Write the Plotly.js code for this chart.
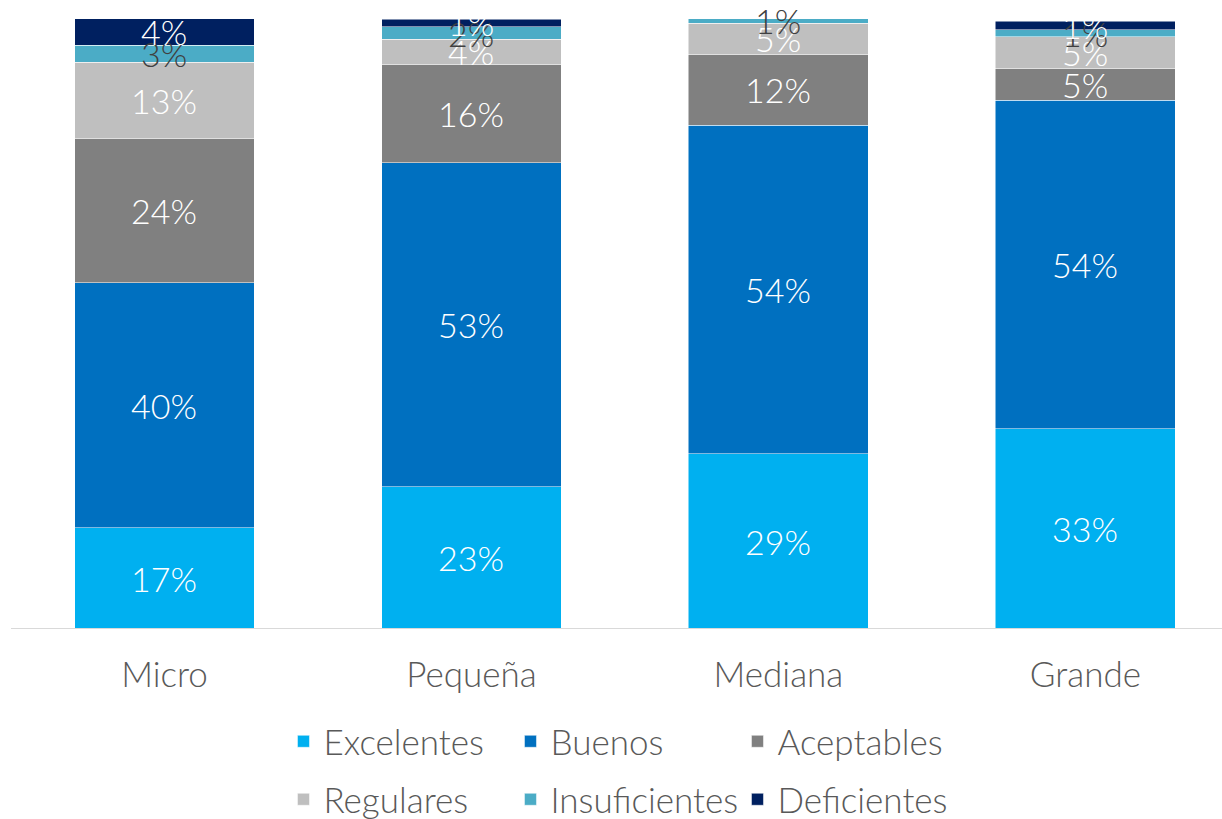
<!DOCTYPE html>
<html><head><meta charset="utf-8">
<script src="https://cdn.plot.ly/plotly-3.0.1.min.js"></script>
<style>html,body{margin:0;padding:0;background:#fff}#c{width:1222px;height:819px}</style>
</head><body><div id="c"></div>
<script>
const categories = ["Micro", "Pequeña", "Mediana", "Grande"];
const seriesNames = ["Excelentes", "Buenos", "Aceptables", "Regulares", "Insuficientes", "Deficientes"];
const excelentes = [16.6, 23.3, 28.7, 32.8];
const buenos = [40.2, 53.1, 53.9, 53.9];
const aceptables = [23.6, 16.2, 11.6, 5.2];
const regulares = [12.5, 4.1, 5.1, 5.2];
const insuficientes = [2.8, 2.0, 1.0, 1.1];
const deficientes = [4.4, 1.3, 0, 1.4];
const colors = ["#00b0f0", "#0070c0", "#808080", "#bfbfbf", "#4bacc6", "#002060"];
const textColors = ["#ffffff", "#ffffff", "#ffffff", "#ffffff", "#404040", "#ffffff"];
const series = [excelentes, buenos, aceptables, regulares, insuficientes, deficientes];
const FONT = "Lato, 'Open Sans', sans-serif";
const traces = series.map((vals, i) => ({
  type: "bar", name: seriesNames[i], x: categories, y: vals,
  legend: i < 3 ? "legend" : "legend2",
  marker: {color: colors[i], line: {color: "#ffffff", width: 0.5}},
  textposition: "none", hoverinfo: "skip"
}));
// value labels at the middle of each stacked segment
const annotations = [];
const base = categories.map(() => 0);
series.forEach((vals, i) => {
  vals.forEach((v, j) => {
    if (v > 0) {
      annotations.push({x: categories[j], y: base[j] + v / 2, xref: "x", yref: "y",
        text: Math.round(v) + "%", showarrow: false, xanchor: "center", yanchor: "middle",
        font: {color: textColors[i], size: 34, family: FONT, weight: 300}});
    }
    base[j] += v;
  });
});
const legendBase = {orientation: "h", x: 0.225, xanchor: "left", yanchor: "top",
  xref: "paper", yref: "container",
  entrywidth: 182, entrywidthmode: "pixels", traceorder: "normal",
  font: {size: 35, color: "#595959", family: FONT, weight: 300}, itemclick: false};
const layout = {
  width: 1222, height: 819, barmode: "stack", bargap: 0.414,
  paper_bgcolor: "#ffffff", plot_bgcolor: "#ffffff",
  margin: {l: 11, r: 0, t: 19, b: 190},
  font: {family: FONT, color: "#595959"},
  xaxis: {range: [-0.5, 3.445], showgrid: false, zeroline: false, showline: false,
          ticks: "", tickfont: {size: 35, color: "#595959", family: FONT, weight: 300}, ticklabelstandoff: 22},
  yaxis: {range: [0, 100], visible: false, showgrid: false, zeroline: false},
  shapes: [{type: "line", xref: "paper", yref: "y", x0: 0, x1: 1, y0: 0, y1: 0,
            line: {color: "#d9d9d9", width: 2}}],
  annotations: annotations,
  showlegend: true,
  legend: Object.assign({}, legendBase, {y: 0.1306}),
  legend2: Object.assign({}, legendBase, {y: 0.0598})
};
Plotly.newPlot("c", traces, layout, {displayModeBar: false, staticPlot: true});
</script></body></html>
